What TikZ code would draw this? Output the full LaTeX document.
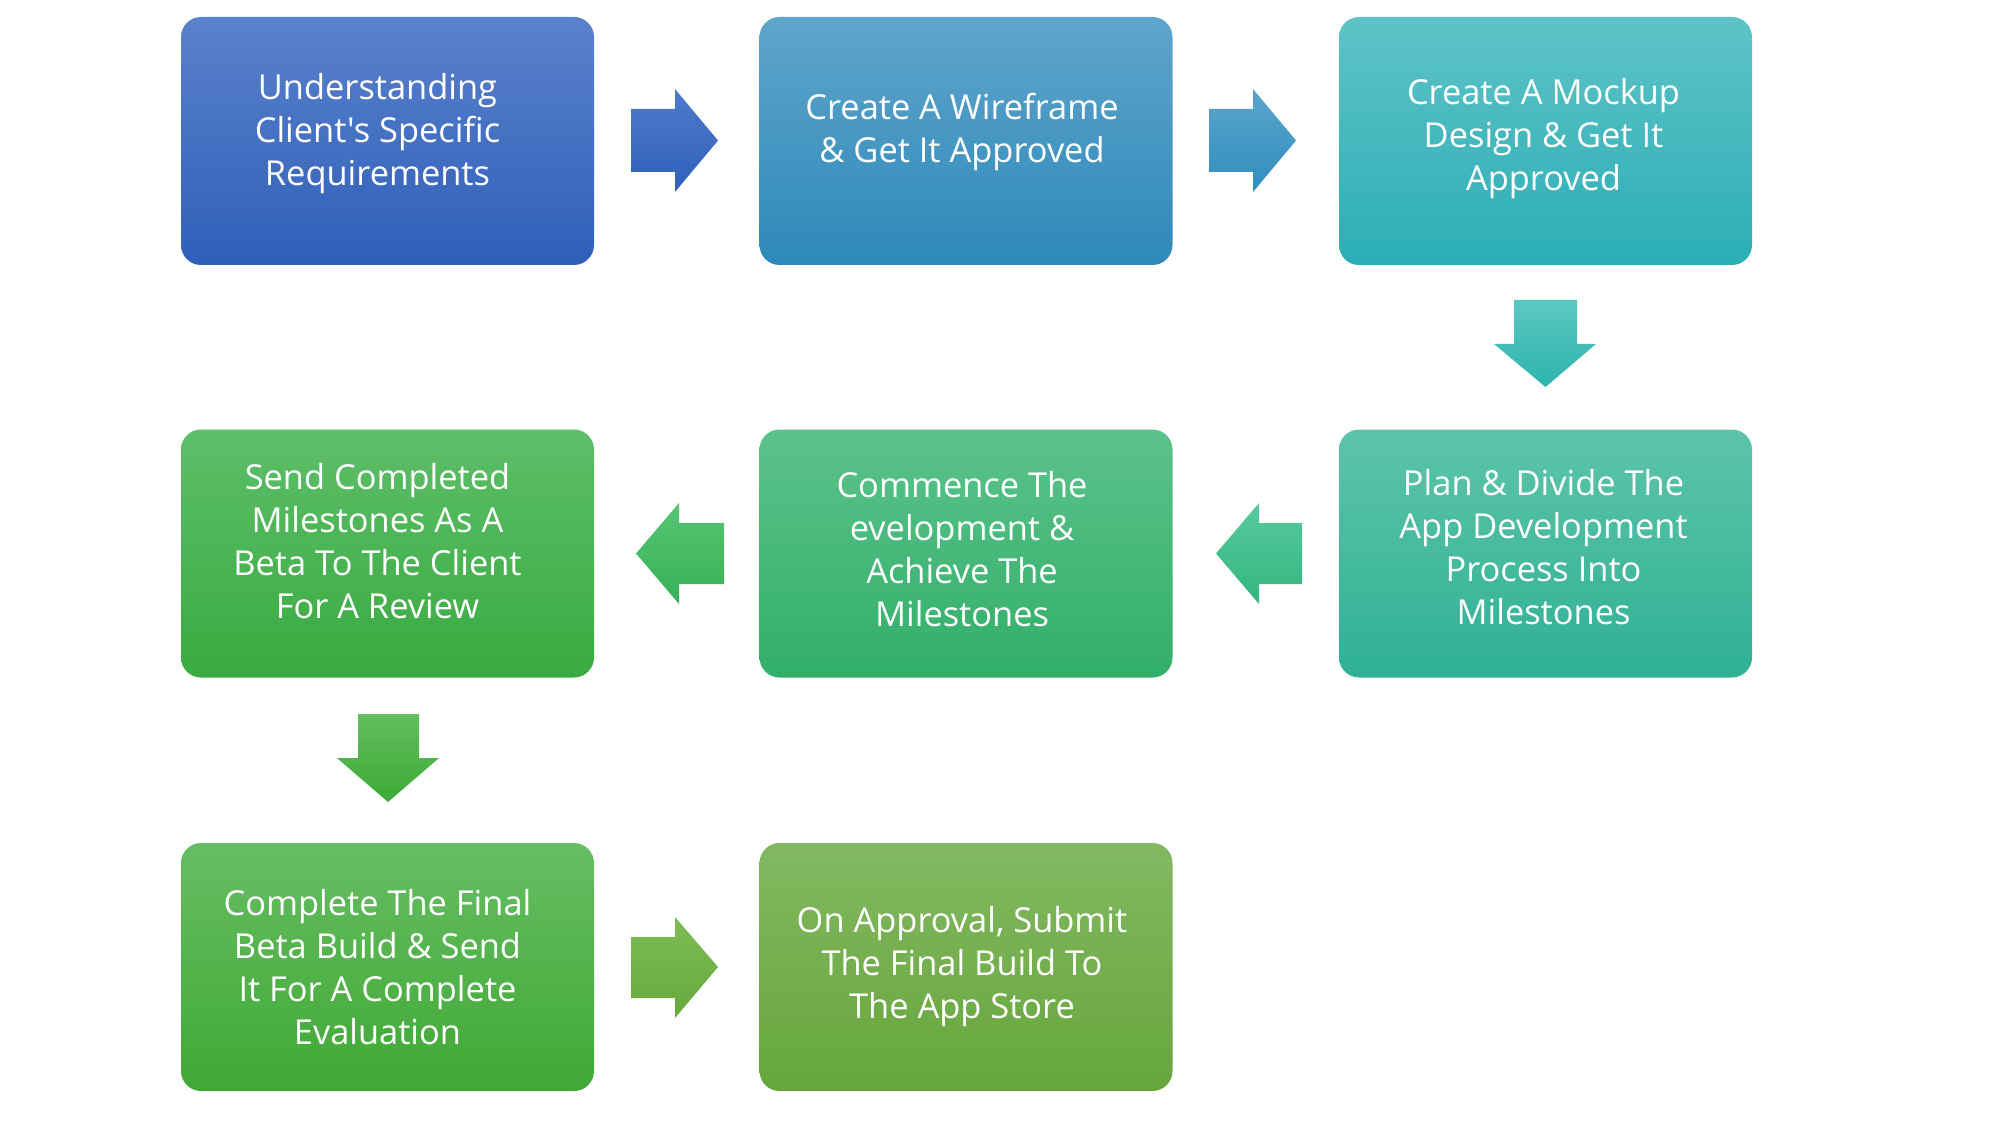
\documentclass[tikz,border=0pt]{standalone}
\usepackage{fontspec}
\setmainfont{Open Sans}[Ligatures=TeXOff]
\definecolor{bAt}{HTML}{5A82CC}\definecolor{bAb}{HTML}{2F5FB9}
\definecolor{bBt}{HTML}{5FA5CB}\definecolor{bBb}{HTML}{2E89BA}
\definecolor{bCt}{HTML}{5EC3C7}\definecolor{bCb}{HTML}{2BAEB5}
\definecolor{bDt}{HTML}{5DC4AA}\definecolor{bDb}{HTML}{2FB194}
\definecolor{bEt}{HTML}{5CC28B}\definecolor{bEb}{HTML}{31AF69}
\definecolor{bFt}{HTML}{5EBE69}\definecolor{bFb}{HTML}{39AB40}
\definecolor{bGt}{HTML}{67BD63}\definecolor{bGb}{HTML}{3FA934}
\definecolor{bHt}{HTML}{83B862}\definecolor{bHb}{HTML}{66A63A}
\definecolor{aAt}{HTML}{4F7ACC}\definecolor{aAb}{HTML}{3060BA}
\definecolor{aBt}{HTML}{5BA5CB}\definecolor{aBb}{HTML}{2F8EBF}
\definecolor{aCt}{HTML}{5CC7C2}\definecolor{aCb}{HTML}{2DB4AF}
\definecolor{aDt}{HTML}{58C9A0}\definecolor{aDb}{HTML}{33B67E}
\definecolor{aEt}{HTML}{56C573}\definecolor{aEb}{HTML}{38B058}
\definecolor{aFt}{HTML}{63BE5E}\definecolor{aFb}{HTML}{3DAA36}
\definecolor{aGt}{HTML}{7EBB55}\definecolor{aGb}{HTML}{66A93C}
\begin{document}
\begin{tikzpicture}[x=0.5pt,y=-0.5pt,
  stepbox/.style={rounded corners=10pt, minimum width=206.5pt, minimum height=124pt, inner sep=0pt},
  txt/.style={text=white, align=center, inner sep=0pt, font=\fontsize{17.2}{21.5}\selectfont}]
\useasboundingbox (0,0) rectangle (1996,1128);
% boxes
\node[stepbox, top color=bAt, bottom color=bAb] (b1) at (387.5,141) {};
\node[stepbox, top color=bBt, bottom color=bBb] (b2) at (966,141) {};
\node[stepbox, top color=bCt, bottom color=bCb] (b3) at (1545.5,141) {};
\node[stepbox, top color=bDt, bottom color=bDb] (b4) at (1545.5,553.5) {};
\node[stepbox, top color=bEt, bottom color=bEb] (b5) at (966,553.5) {};
\node[stepbox, top color=bFt, bottom color=bFb] (b6) at (387.5,553.5) {};
\node[stepbox, top color=bGt, bottom color=bGb] (b7) at (387.5,967) {};
\node[stepbox, top color=bHt, bottom color=bHb] (b8) at (966,967) {};
% texts
\node[txt, xshift=-5pt, yshift=3.7pt] (t1) at (b1) {Understanding\\Client's Specific\\Requirements};
\node[txt, xshift=-2pt, yshift=4.5pt] (t2) at (b2) {Create A Wireframe\\\& Get It Approved};
\node[txt, xshift=-1pt, yshift=1.3pt] (t3) at (b3) {Create A Mockup\\Design \& Get It\\Approved};
\node[txt, xshift=-1pt, yshift=3pt] (t4) at (b4) {Plan \& Divide The\\App Development\\Process Into\\Milestones};
\node[txt, xshift=-2pt, yshift=2pt] (t5) at (b5) {Commence The\\evelopment \&\\Achieve The\\Milestones};
\node[txt, xshift=-5pt, yshift=6pt] (t6) at (b6) {Send Completed\\Milestones As A\\Beta To The Client\\For A Review};
\node[txt, xshift=-5pt, yshift=0pt] (t7) at (b7) {Complete The Final\\Beta Build \& Send\\It For A Complete\\Evaluation};
\node[txt, xshift=-2pt, yshift=0pt] (t8) at (b8) {On Approval, Submit\\The Final Build To\\The App Store};
% arrows
\shade[top color=aAt, bottom color=aAb] (631,109) -- (675,109) -- (675,89) -- (718,140.5) -- (675,192) -- (675,172) -- (631,172) -- cycle;
\shade[top color=aBt, bottom color=aBb] (1209,109) -- (1253,109) -- (1253,89) -- (1296,140.5) -- (1253,192) -- (1253,172) -- (1209,172) -- cycle;
\shade[top color=aCt, bottom color=aCb] (1514,300) -- (1577,300) -- (1577,344) -- (1596,344) -- (1545.5,387) -- (1494,344) -- (1514,344) -- cycle;
\shade[top color=aDt, bottom color=aDb] (1302,523) -- (1259,523) -- (1259,503) -- (1216,553.5) -- (1259,604) -- (1259,584) -- (1302,584) -- cycle;
\shade[top color=aEt, bottom color=aEb] (724,523) -- (679,523) -- (679,503) -- (636,553.5) -- (679,604) -- (679,584) -- (724,584) -- cycle;
\shade[top color=aFt, bottom color=aFb] (358,714) -- (419,714) -- (419,758) -- (439,758) -- (388,802) -- (337,758) -- (358,758) -- cycle;
\shade[top color=aGt, bottom color=aGb] (631,937) -- (675,937) -- (675,917) -- (718,967) -- (675,1018) -- (675,998) -- (631,998) -- cycle;
\end{tikzpicture}
\end{document}
